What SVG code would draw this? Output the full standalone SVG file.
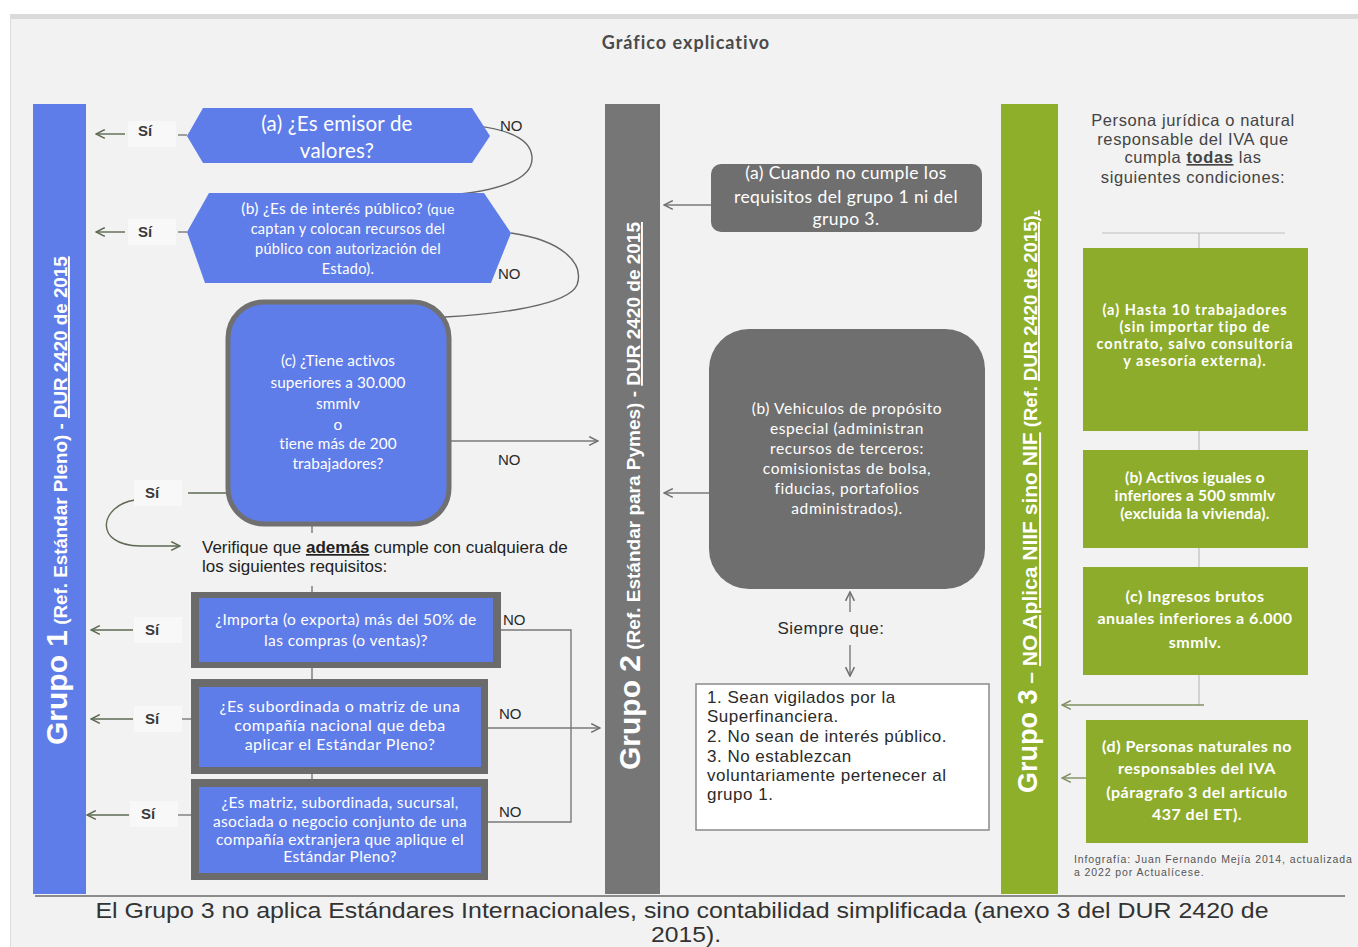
<svg xmlns="http://www.w3.org/2000/svg" width="1358" height="947" viewBox="0 0 1358 947">
  <defs>
    <marker id="arrOlive" viewBox="0 0 10 10" refX="9" refY="5" markerWidth="11" markerHeight="11" markerUnits="userSpaceOnUse" orient="auto">
      <path d="M1,1 L9,5 L1,9" fill="none" stroke="#5d6a52" stroke-width="1.4"/>
    </marker>
    <marker id="arrGray" viewBox="0 0 10 10" refX="9" refY="5" markerWidth="11" markerHeight="11" markerUnits="userSpaceOnUse" orient="auto">
      <path d="M1,1 L9,5 L1,9" fill="none" stroke="#6f6f6f" stroke-width="1.4"/>
    </marker>
    <marker id="arrGreen" viewBox="0 0 10 10" refX="9" refY="5" markerWidth="11" markerHeight="11" markerUnits="userSpaceOnUse" orient="auto">
      <path d="M1,1 L9,5 L1,9" fill="none" stroke="#7f8f62" stroke-width="1.4"/>
    </marker>
    <style>
      .lato{font-family:Lato,"Open Sans","Noto Sans",sans-serif}
      .arial{font-family:"Liberation Sans",Arial,sans-serif}
      .wt{fill:#ffffff}
      .blue{fill:#5f7de8}
      .dgray{fill:#6f6f6f}
      .green{fill:#8dac2c}
      .lbl{font-family:"Liberation Sans",Arial,sans-serif;font-size:15px;fill:#2a2a2a}
      .si{font-family:"Liberation Sans",Arial,sans-serif;font-size:15px;font-weight:bold;fill:#3a3a3a;text-anchor:middle}
      .sibg{fill:#f8f8f8}
      .ol{fill:none;stroke:#5d6a52;stroke-width:1.4}
      .gl{fill:none;stroke:#7a7a7a;stroke-width:1.4}
      .gr{fill:none;stroke:#7f8f62;stroke-width:1.4}
      .lt{fill:none;stroke:#bdbdbd;stroke-width:1.2}
      .bar{font-family:"Liberation Sans",Arial,sans-serif;font-weight:bold;fill:#ffffff}
      .u{text-decoration:underline}
    </style>
  </defs>

  <!-- page and panel -->
  <rect x="0" y="0" width="1358" height="947" fill="#ffffff"/>
  <rect x="10" y="14" width="1348" height="933" fill="#f2f2f2"/>
  <rect x="10" y="14" width="1348" height="5" fill="#dadada"/>
  <line x1="10.5" y1="14" x2="10.5" y2="947" stroke="#dcdcdc" stroke-width="1"/>

  <text x="686" y="49" class="lato" font-size="18" font-weight="bold" fill="#4a4a4a" text-anchor="middle" letter-spacing="1">Gráfico explicativo</text>

  <!-- group columns -->
  <g id="grupo1">
    <rect x="33" y="104" width="53" height="790" class="blue"/>
    <text class="bar" transform="translate(67,745) rotate(-90)"><tspan font-size="30">Grupo 1</tspan><tspan font-size="18.8"> (Ref. Estándar Pleno) - </tspan><tspan font-size="18.8" class="u">DUR 2420 de 2015</tspan></text>
  </g>
  <g id="grupo2">
    <rect x="605" y="104" width="55" height="790" fill="#767676"/>
    <text class="bar" transform="translate(640,770) rotate(-90)"><tspan font-size="30">Grupo 2</tspan><tspan font-size="19"> (Ref. Estándar para Pymes) - </tspan><tspan font-size="19" class="u">DUR 2420 de 2015</tspan></text>
  </g>
  <g id="grupo3">
    <rect x="1001" y="104" width="57" height="790" fill="#8eaf2a"/>
    <text class="bar" transform="translate(1037,793) rotate(-90)"><tspan font-size="27">Grupo 3</tspan><tspan font-size="21"> – </tspan><tspan font-size="21" class="u">NO Aplica NIIF sino NIF</tspan><tspan font-size="18.5"> (Ref. </tspan><tspan font-size="18.5" class="u">DUR 2420 de 2015).</tspan></text>
  </g>

  <!-- connectors -->
  <g id="connectors">
    <!-- yes branches to group 1 -->
    <path d="M125,134 H96" class="ol" marker-end="url(#arrOlive)"/>
    <path d="M125,232 H96" class="ol" marker-end="url(#arrOlive)"/>
    <path d="M133,630 H91" class="ol" marker-end="url(#arrOlive)"/>
    <path d="M133,719 H91" class="ol" marker-end="url(#arrOlive)"/>
    <path d="M129,815 H87" class="ol" marker-end="url(#arrOlive)"/>
    <path d="M178,135 H187" class="gl"/>
    <path d="M178,232 H187" class="gl"/>
    <path d="M188,493 H228" class="ol"/>
    <path d="M180,719 H191" class="gl"/>
    <path d="M176,815 H191" class="gl"/>
    <path d="M135,500 C100,505 92,545 140,546 L180,546" class="ol" marker-end="url(#arrOlive)"/>
    <!-- no branches -->
    <path d="M410,123 C460,122 530,125 532,157 C534,185 480,193 440,196" fill="none" stroke="#666" stroke-width="1.4"/>
    <path d="M511,233 C560,240 585,262 577,285 C568,305 500,314 445,317" fill="none" stroke="#666" stroke-width="1.4"/>
    <path d="M451,441 H598" class="gl" marker-end="url(#arrGray)"/>
    <path d="M501,630 H571 V822 H488" class="gl"/>
    <path d="M488,728 H600" class="gl" marker-end="url(#arrGray)"/>
    <!-- links between the checks -->
    <path d="M312,525 V533 M312,586 V592 M312,668 V679 M312,774 V779" class="gl"/>
    <!-- group 2 -->
    <path d="M711,205 H664" class="gl" marker-end="url(#arrGray)"/>
    <path d="M709,493 H664" class="gl" marker-end="url(#arrGray)"/>
    <path d="M850,612 V592" class="gl" marker-end="url(#arrGray)"/>
    <path d="M850,645 V676" class="gl" marker-end="url(#arrGray)"/>
    <!-- group 3 -->
    <path d="M1102,233 H1285 M1199,233 V705" class="lt"/>
    <path d="M1204,705 H1062" class="gr" marker-end="url(#arrGreen)"/>
    <path d="M1086,778 H1062" class="gr" marker-end="url(#arrGreen)"/>
  </g>

  <!-- yes / no labels -->
  <g id="etiquetas">
    <rect x="128" y="121" width="48" height="26" class="sibg"/>
    <text x="145" y="136" class="si">Sí</text>
    <rect x="128" y="219" width="48" height="26" class="sibg"/>
    <text x="145" y="237" class="si">Sí</text>
    <rect x="134" y="480" width="48" height="26" class="sibg"/>
    <text x="152" y="498" class="si">Sí</text>
    <rect x="134" y="617" width="48" height="26" class="sibg"/>
    <text x="152" y="635" class="si">Sí</text>
    <rect x="134" y="706" width="48" height="26" class="sibg"/>
    <text x="152" y="724" class="si">Sí</text>
    <rect x="130" y="801" width="48" height="26" class="sibg"/>
    <text x="148" y="819" class="si">Sí</text>
    <text x="500" y="131" class="lbl">NO</text>
    <text x="498" y="279" class="lbl">NO</text>
    <text x="498" y="465" class="lbl">NO</text>
    <text x="503" y="625" class="lbl">NO</text>
    <text x="499" y="719" class="lbl">NO</text>
    <text x="499" y="817" class="lbl">NO</text>
  </g>

  <!-- group 1 questions -->
  <g id="pregunta-a">
    <polygon points="187,136 203,108 472,108 490,136 472,163 203,163" class="blue"/>
    <text class="lato wt" font-size="20.5" text-anchor="middle" letter-spacing="0.2"><tspan x="337" y="131">(a) ¿Es emisor de</tspan><tspan x="337" y="158">valores?</tspan></text>
  </g>
  <g id="pregunta-b">
    <polygon points="187,232 209,193 484,193 511,233 491,283 205,283" class="blue"/>
    <text class="lato wt" text-anchor="middle" letter-spacing="0.3"><tspan x="348" y="214" font-size="15.5">(b) ¿Es de interés público? <tspan font-size="14">(que</tspan></tspan><tspan x="348" y="234" font-size="14.5">captan y colocan recursos del</tspan><tspan x="348" y="254" font-size="14.5">público con autorización del</tspan><tspan x="348" y="274" font-size="14.5">Estado).</tspan></text>
  </g>
  <g id="pregunta-c">
    <rect x="228" y="302" width="221" height="222" rx="36" class="blue" stroke="#707070" stroke-width="5"/>
    <text class="lato wt" font-size="15.3" text-anchor="middle" letter-spacing="0.1"><tspan x="338" y="366">(c) ¿Tiene activos</tspan><tspan x="338" y="388">superiores a 30.000</tspan><tspan x="338" y="409">smmlv</tspan><tspan x="338" y="430">o</tspan><tspan x="338" y="449">tiene más de 200</tspan><tspan x="338" y="469">trabajadores?</tspan></text>
  </g>
  <g id="verifique">
    <text class="arial" font-size="17" fill="#222"><tspan x="202" y="553">Verifique que <tspan font-weight="bold" class="u">además</tspan> cumple con cualquiera de</tspan><tspan x="202" y="572">los siguientes requisitos:</tspan></text>
  </g>
  <g id="requisito-1">
    <rect x="191" y="592" width="310" height="76" fill="#6b6b6b"/>
    <rect x="199" y="598" width="294" height="64" class="blue"/>
    <text class="lato wt" font-size="15.5" text-anchor="middle" letter-spacing="0.4"><tspan x="346" y="625">¿Importa (o exporta) más del  50% de</tspan><tspan x="346" y="646">las compras (o ventas)?</tspan></text>
  </g>
  <g id="requisito-2">
    <rect x="191" y="679" width="297" height="95" fill="#6b6b6b"/>
    <rect x="199" y="687" width="282" height="80" class="blue"/>
    <text class="lato wt" font-size="16" text-anchor="middle" letter-spacing="0.5"><tspan x="340" y="712">¿Es subordinada o matriz de una</tspan><tspan x="340" y="731">compañía nacional que deba</tspan><tspan x="340" y="750">aplicar el Estándar Pleno?</tspan></text>
  </g>
  <g id="requisito-3">
    <rect x="191" y="779" width="297" height="101" fill="#6b6b6b"/>
    <rect x="199" y="787" width="282" height="86" class="blue"/>
    <text class="lato wt" font-size="15.5" text-anchor="middle" letter-spacing="0.35"><tspan x="340" y="808">¿Es matriz, subordinada, sucursal,</tspan><tspan x="340" y="827">asociada o negocio conjunto de una</tspan><tspan x="340" y="845">compañía extranjera que aplique el</tspan><tspan x="340" y="862">Estándar Pleno?</tspan></text>
  </g>

  <!-- group 2 conditions -->
  <g id="caso-a">
    <rect x="711" y="164" width="271" height="68" rx="10" class="dgray"/>
    <text class="lato wt" font-size="17.5" text-anchor="middle" letter-spacing="0.4"><tspan x="846" y="179">(a) Cuando no cumple los</tspan><tspan x="846" y="203">requisitos del grupo 1 ni del</tspan><tspan x="846" y="225">grupo 3.</tspan></text>
  </g>
  <g id="caso-b">
    <rect x="709" y="329" width="276" height="260" rx="40" class="dgray"/>
    <text class="lato wt" font-size="15.5" text-anchor="middle" letter-spacing="0.6"><tspan x="847" y="414">(b) Vehiculos de propósito</tspan><tspan x="847" y="434">especial (administran</tspan><tspan x="847" y="454">recursos de terceros:</tspan><tspan x="847" y="474">comisionistas de bolsa,</tspan><tspan x="847" y="494">fiducias, portafolios</tspan><tspan x="847" y="514">administrados).</tspan></text>
  </g>
  <g id="siempre-que">
    <text x="831" y="634" class="arial" font-size="17" fill="#2a2a2a" text-anchor="middle" letter-spacing="0.5">Siempre que:</text>
  </g>
  <g id="condiciones">
    <rect x="696" y="684" width="293" height="146" fill="#ffffff" stroke="#8a8a8a" stroke-width="1.5"/>
    <text class="arial" font-size="17" fill="#2a2a2a" letter-spacing="0.5"><tspan x="707" y="703">1. Sean vigilados por la</tspan><tspan x="707" y="722">Superfinanciera.</tspan><tspan x="707" y="742">2. No sean de interés público.</tspan><tspan x="707" y="762">3. No establezcan</tspan><tspan x="707" y="781">voluntariamente pertenecer al</tspan><tspan x="707" y="800">grupo 1.</tspan></text>
  </g>

  <!-- group 3 conditions -->
  <g id="persona">
    <text class="arial" font-size="16.5" fill="#444" text-anchor="middle" letter-spacing="0.6"><tspan x="1193" y="126">Persona jurídica o natural</tspan><tspan x="1193" y="145">responsable del IVA que</tspan><tspan x="1193" y="163">cumpla <tspan font-weight="bold" class="u">todas</tspan> las</tspan><tspan x="1193" y="183">siguientes condiciones:</tspan></text>
  </g>
  <g id="cond-a">
    <rect x="1083" y="248" width="225" height="183" class="green"/>
    <text class="lato wt" font-size="14.5" font-weight="bold" text-anchor="middle" letter-spacing="1"><tspan x="1195" y="315">(a)  Hasta 10 trabajadores</tspan><tspan x="1195" y="332">(sin importar tipo de</tspan><tspan x="1195" y="349">contrato, salvo consultoría</tspan><tspan x="1195" y="366">y asesoría externa).</tspan></text>
  </g>
  <g id="cond-b">
    <rect x="1083" y="450" width="225" height="98" class="green"/>
    <text class="lato wt" font-size="15.5" font-weight="bold" text-anchor="middle" letter-spacing="0.2"><tspan x="1195" y="483">(b) Activos iguales o</tspan><tspan x="1195" y="501">inferiores a 500  smmlv</tspan><tspan x="1195" y="519">(excluida la vivienda).</tspan></text>
  </g>
  <g id="cond-c">
    <rect x="1083" y="567" width="225" height="108" class="green"/>
    <text class="lato wt" font-size="16" font-weight="bold" text-anchor="middle" letter-spacing="0.5"><tspan x="1195" y="602">(c) Ingresos brutos</tspan><tspan x="1195" y="624">anuales inferiores a 6.000</tspan><tspan x="1195" y="648">smmlv.</tspan></text>
  </g>
  <g id="cond-d">
    <rect x="1086" y="720" width="222" height="123" class="green"/>
    <text class="lato wt" font-size="16" font-weight="bold" text-anchor="middle" letter-spacing="0.5"><tspan x="1197" y="752">(d) Personas naturales no</tspan><tspan x="1197" y="774">responsables del IVA</tspan><tspan x="1197" y="798">(páragrafo 3  del artículo</tspan><tspan x="1197" y="820">437 del ET).</tspan></text>
  </g>
  <g id="credito">
    <text class="arial" font-size="10.5" fill="#555" letter-spacing="0.9"><tspan x="1074" y="863">Infografía: Juan Fernando Mejía 2014, actualizada</tspan><tspan x="1074" y="876">a 2022 por Actualícese.</tspan></text>
  </g>

  <!-- footer -->
  <line x1="35" y1="896" x2="1345" y2="896" stroke="#8c8c8c" stroke-width="2"/>
  <text class="arial" font-size="22" fill="#333" text-anchor="middle"><tspan x="682" y="918" textLength="1173" lengthAdjust="spacingAndGlyphs">El Grupo 3 no aplica Estándares Internacionales, sino contabilidad simplificada (anexo 3 del DUR 2420 de</tspan><tspan x="686" y="942" textLength="70" lengthAdjust="spacingAndGlyphs">2015).</tspan></text>
</svg>
